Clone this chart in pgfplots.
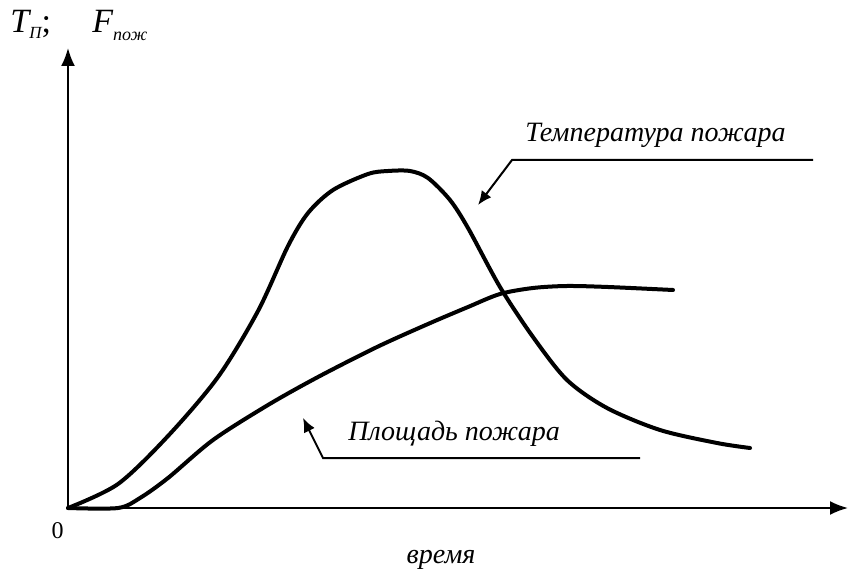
\documentclass[border=0pt]{standalone}
\usepackage{fontspec}
\setmainfont{Liberation Serif}
\usepackage{pgfplots}
\pgfplotsset{compat=1.18}
\usetikzlibrary{arrows.meta}
\begin{document}
\begin{tikzpicture}
\begin{axis}[
  x=0.5pt, y=0.5pt,
  xmin=0, xmax=780, ymin=0, ymax=460,
  axis lines=left,
  axis line style={line width=1pt, -{Latex[length=9pt,width=7pt]}},
  xtick=\empty, ytick=\empty,
  clip=false,
]
% bounding box of the whole picture
\path (axis cs:-68,-65) rectangle (axis cs:781,508);
% temperature of fire
\addplot[black, line width=2pt, smooth, tension=0.5, line cap=round, line join=round] coordinates {
(0,0) (50,24) (100,72) (150,131) (190,197) (220,262) (240,295) (265,318) (300,334)
(320,337) (342,337) (360,330) (382,308) (400,280) (432,221) (465,171) (499,128)
(539,100) (592,78) (649,65) (682,60)
};
% area of fire
\addplot[black, line width=2pt, smooth, tension=0.5, line cap=round, line join=round] coordinates {
(0,0) (50,0) (72,10) (100,30) (145,68) (200,103) (250,131) (309,161) (360,184)
(400,201) (432,214) (465,220) (499,222) (540,221) (605,218)
};
% annotations
\draw[line width=1pt, -{Latex[length=7pt,width=6pt]}] (axis cs:745,348) -- (axis cs:444,348) -- (axis cs:410,303);
\draw[line width=1pt, -{Latex[length=7pt,width=6pt]}] (axis cs:572,50) -- (axis cs:255,50) -- (axis cs:235,90);
\node[anchor=base west, inner sep=0pt, font=\fontsize{14}{16}\selectfont\itshape] at (axis cs:457,366) {Температура пожара};
\node[anchor=base west, inner sep=0pt, font=\fontsize{14}{16}\selectfont\itshape] at (axis cs:280,68) {Площадь пожара};
\node[anchor=base, inner sep=0pt, font=\fontsize{14}{16}\selectfont\itshape] at (axis cs:373,-55) {время};
\node[anchor=center, inner sep=0pt, font=\fontsize{12}{14}\selectfont] at (axis cs:-10.5,-23) {0};
\node[anchor=base west, inner sep=0pt, font=\fontsize{17}{20}\selectfont] at (axis cs:-58,475)
  {\itshape T\raisebox{-3pt}{\fontsize{8.5}{10}\selectfont\itshape П}\upshape;};
\node[anchor=base west, inner sep=0pt, font=\fontsize{17}{20}\selectfont] at (axis cs:24,475)
  {\itshape F\raisebox{-4pt}{\fontsize{9}{10}\selectfont\itshape пож}};
\end{axis}
\end{tikzpicture}
\end{document}
